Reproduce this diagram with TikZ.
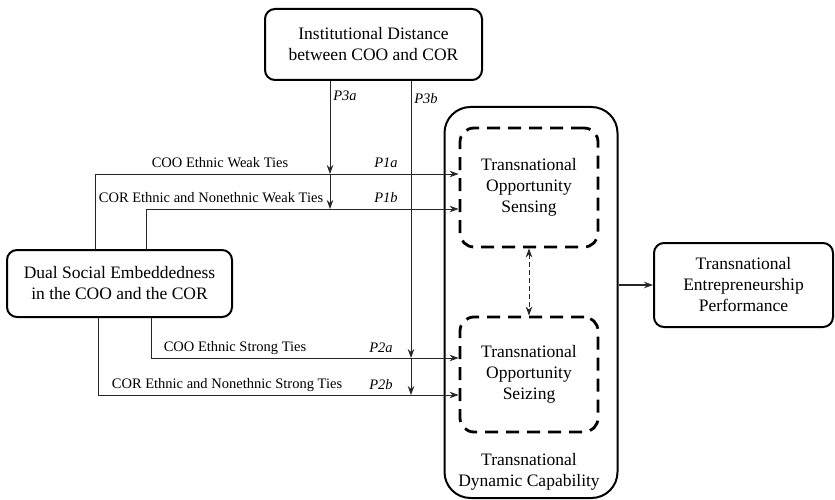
\documentclass[tikz,border=0pt]{standalone}
\usepackage{fontspec}
\setmainfont{Liberation Serif}
\usetikzlibrary{arrows.meta}
\begin{document}
\begin{tikzpicture}[x=1pt,y=-1pt,
  box/.style={draw, line width=2pt, rounded corners=10pt, align=center,
    font=\fontsize{17.5}{21}\selectfont, inner sep=0pt},
  dbox/.style={draw, line width=2.8pt, dash pattern=on 13pt off 8pt,
    rounded corners=14pt, align=center, font=\fontsize{17.5}{21}\selectfont, inner sep=0pt},
  link/.style={line width=0.8pt, draw=black!85},
  tip/.style={-{Stealth[length=9pt,width=6.5pt]}},
  lab/.style={font=\fontsize{14.5}{16}\selectfont, inner sep=0pt},
  plab/.style={font=\fontsize{14.5}{16}\selectfont\itshape, inner sep=0pt}]
\useasboundingbox (0,0) rectangle (835,500);

% boxes
\node[box, minimum width=217pt, minimum height=71pt] (inst) at (373.5,44.5)
  {Institutional Distance\\between COO and COR};
\node[box, minimum width=225pt, minimum height=67pt] (dual) at (119.5,283.5)
  {Dual Social Embeddedness\\in the COO and the COR};
\node[draw, line width=2pt, rounded corners=26pt, minimum width=173pt,
  minimum height=391pt] (cap) at (531,302.5) {};
\node[align=center, font=\fontsize{17.5}{21}\selectfont] (capl) at (529,472)
  {Transnational\\Dynamic Capability};
\node[dbox, minimum width=138pt, minimum height=119pt] (sense) at (529,187.5)
  {Transnational\\Opportunity\\Sensing};
\node[dbox, minimum width=138pt, minimum height=115pt] (seize) at (529,374.5)
  {Transnational\\Opportunity\\Seizing};
\node[box, minimum width=179pt, minimum height=84pt] (perf) at (743.5,285)
  {Transnational\\Entrepreneurship\\Performance};

% junction points on the tie lines
\coordinate (w1) at (330,174);
\coordinate (w2) at (330,209);
\coordinate (s1) at (411,358);
\coordinate (s2) at (411,395);

% ties from dual social embeddedness
\draw[link,tip] ([xshift=-24.5pt]dual.north) |- ([yshift=13.5pt]sense.west);
\draw[link,tip] ([xshift=26.5pt]dual.north) |- ([yshift=-21.5pt]sense.west);
\draw[link,tip] ([xshift=31.5pt]dual.south) |- ([yshift=16.5pt]seize.west);
\draw[link,tip] ([xshift=-21.5pt]dual.south) |- ([yshift=-20.5pt]seize.west);

% moderating effects of institutional distance
\draw[link,tip] (inst.south -| w1) -- (w1);
\draw[link,tip] (w1) -- (w2);
\draw[link,tip] (inst.south -| s1) -- (s1);
\draw[link,tip] (s1) -- (s2);

% capability links
\draw[link,dash pattern=on 5pt off 3pt,
  {Stealth[length=9pt,width=6.5pt]}-{Stealth[length=9pt,width=6.5pt]}]
  (sense.south) -- (seize.north);
\draw[link,line width=1.1pt,tip] (cap.east |- perf.west) -- (perf.west);

% labels
\node[lab] (l1) at (220,163) {COO Ethnic Weak Ties};
\node[lab] (l2) at (211,198) {COR Ethnic and Nonethnic Weak Ties};
\node[lab] (l3) at (235,348) {COO Ethnic Strong Ties};
\node[lab] (l4) at (227,385) {COR Ethnic and Nonethnic Strong Ties};
\node[plab] (p1a) at (386,163) {P1a};
\node[plab] (p1b) at (386,198) {P1b};
\node[plab] (p2a) at (381,348) {P2a};
\node[plab] (p2b) at (381,385) {P2b};
\node[plab] (p3a) at (345,96) {P3a};
\node[plab] (p3b) at (426,99) {P3b};
\end{tikzpicture}
\end{document}
